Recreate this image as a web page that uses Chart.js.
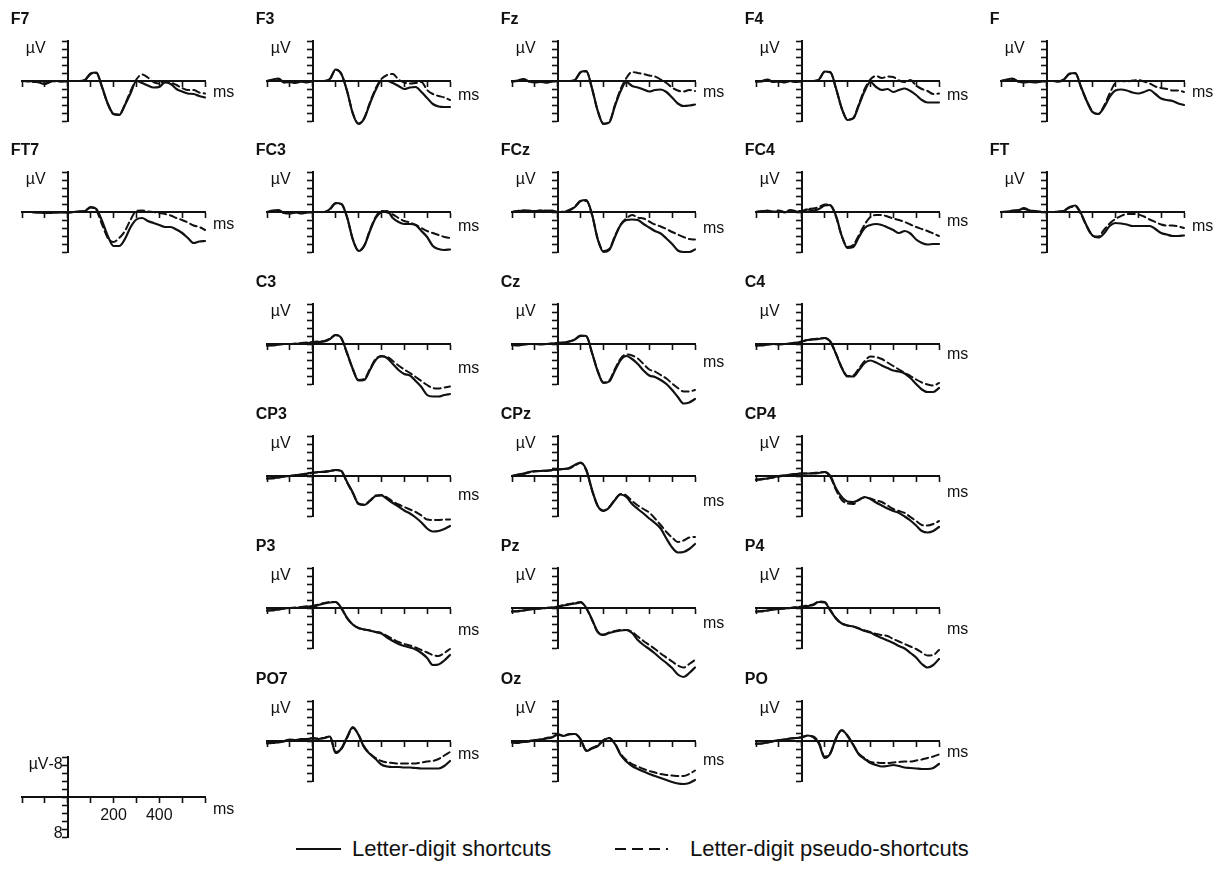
<!DOCTYPE html>
<html>
<head>
<meta charset="utf-8">
<script src="https://cdn.jsdelivr.net/npm/chart.js@4.4.1/dist/chart.umd.min.js"></script>
<style>
  html, body { margin: 0; padding: 0; background: #fff; }
  #wrap { position: relative; width: 1225px; height: 879px; overflow: hidden; background: #fff; }
  #wrap canvas { position: absolute; }
  #legend { position: absolute; left: 0; top: 827px; width: 1225px; height: 44px;
            font-family: "Liberation Sans", Arial, Helvetica, sans-serif; font-size: 22px; color: #111; }
  #legend span { position: absolute; top: 0; line-height: 44px; white-space: nowrap; }
</style>
</head>
<body>
<div id="wrap">
  <div id="legend">
    <svg style="position:absolute;left:0;top:0" width="1225" height="44">
      <line x1="296" y1="22" x2="341" y2="22" stroke="#111" stroke-width="2.2"/>
      <line x1="615" y1="22" x2="679" y2="22" stroke="#111" stroke-width="2.2" stroke-dasharray="11 6 11 6 11 6 2 40"/>
    </svg>
    <span style="left:352px">Letter-digit shortcuts</span>
    <span style="left:690px">Letter-digit pseudo-shortcuts</span>
  </div>
</div>
<script>
// ---------- DATA ----------
const timesMs = [-200,-175,-150,-125,-100,-75,-50,-25,0,25,50,75,100,125,150,175,200,225,250,275,300,325,350,375,400,425,450,475,500,525,550,575,600];
const seriesNames = ['Letter-digit shortcuts', 'Letter-digit pseudo-shortcuts'];
const electrodes = ['F7','F3','Fz','F4','F','FT7','FC3','FCz','FC4','FT','C3','Cz','C4','CP3','CPz','CP4','P3','Pz','P4','PO7','Oz','PO'];
const keyXTickLabels = [200, 400];
const keyYTickLabels = [-8, 8];

// µV values (negative plotted upward), solid = shortcuts, dashed = pseudo-shortcuts
const F7_s = [0,0,0.1,0.3,0.6,0.1,0,0.1, 0,0,0,-0.2, -1.5,-1.7,1.2,4.5, 6.6,6.8,4.8,2.4, 0,0.4,0.9,1.3, 1.2,0.3,0.6,1.6, 2.1,2.5,2.6,3.0, 3.3];
const F7_d = [0,0.1,0.2,0.2,0.5,0.2,0,0.1, 0,0,0,-0.2, -1.4,-1.6,1.3,4.6, 6.6,6.7,4.7,2.0, -0.3,-1.3,-0.7,0.2, 0.5,0.2,0.3,0.8, 1.4,1.8,1.8,2.3, 2.5];
const F3_s = [0,-0.3,-0.5,0.3,0.2,0.4,0.1,0.3, 0,0,0,-0.4, -2.3,-1.4,2.0,6.5, 8.6,7.5,4.5,1.8, 0,0,0.4,1.0, 1.6,1.3,1.2,2.2, 3.4,4.6,5.1,5.2, 5.2];
const F3_d = [0,-0.2,-0.4,0.3,0.2,0.3,0.1,0.2, 0,0,0,-0.4, -2.2,-1.4,2.0,6.4, 8.5,7.4,4.3,1.5, -0.4,-1.2,-1.4,-0.3, 0.3,0.5,0.4,0.2, 1.8,2.6,3.0,3.3, 3.8];
const Fz_s = [0.1,-0.1,-0.4,0.1,0.3,0.2,0.3,0.1, 0,0,0,-0.2, -1.8,-2.0,1.5,6.0, 8.6,8.3,5.0,2.0, 0.2,1.0,1.3,1.7, 2.1,1.8,1.7,2.2, 3.3,4.5,5.0,4.9, 4.7];
const Fz_d = [0.1,0,-0.3,0.1,0.2,0.2,0.3,0.1, 0,0,0,-0.2, -1.7,-1.9,1.6,6.0, 8.5,8.2,4.8,1.6, -0.6,-1.8,-1.6,-1.4, -1.1,-0.9,-0.3,0.4, 1.3,1.9,2.1,1.8, 2.0];
const F4_s = [0.1,0,-0.3,0.2,0.1,0.3,0,0.2, 0,0,0,-0.3, -1.9,-1.8,1.5,5.5, 7.8,7.5,4.8,2.0, 0.2,1.2,1.8,1.6, 2.2,1.8,1.5,2.0, 2.8,3.8,4.3,4.3, 4.3];
const F4_d = [0.1,0.1,-0.2,0.2,0.1,0.2,0,0.2, 0,0,0,-0.3, -1.8,-1.7,1.6,5.5, 7.7,7.4,4.6,1.6, -0.3,-1.0,-0.6,-0.9, -0.8,-0.1,0.2,-0.2, 0.9,1.6,2.0,2.6, 2.5];
const F_s = [0,-0.3,-0.5,0.1,0.3,0.2,0.3,0.1, 0,0,0.1,-0.3, -1.5,-1.6,1.2,4.0, 6.2,6.6,5.3,3.2, 1.9,1.7,1.9,2.3, 2.5,2.2,1.8,2.6, 3.5,3.8,4.0,4.5, 4.8];
const F_d = [0,-0.2,-0.4,0.1,0.2,0.2,0.2,0.1, 0,0,0.1,-0.3, -1.4,-1.5,1.3,4.0, 6.1,6.6,5.0,2.5, 0.4,0,0.1,-0.1, -0.2,0.1,0.5,1.1, 1.4,1.6,1.9,1.9, 2.2];
const FT7_s = [0,0,0,0.1,0.2,0.2,0.1,0.1, 0.1,0,-0.1,-0.2, -1.0,-0.6,1.8,4.8, 6.8,6.8,5.4,3.0, 1.5,1.2,1.8,2.2, 2.6,3.0,3.0,3.5, 4.2,5.2,6.2,5.9, 5.8];
const FT7_d = [0,0,0.1,0.1,0.2,0.1,0.1,0, 0.1,0,-0.1,-0.2, -0.9,-0.3,2.5,5.2, 6.0,5.2,3.8,1.5, -0.2,-0.3,-0.1,0, 0.2,0.4,0.7,1.2, 1.6,2.1,2.7,3.0, 3.6];
const FC3_s = [0,-0.3,-0.4,0.2,0.3,0.1,0.3,0.1, 0,0,0,-0.6, -1.8,-1.6,1.0,5.5, 7.8,6.8,3.8,1.2, 0,-0.2,1.2,2.0, 2.4,2.4,2.6,3.8, 5.0,6.8,7.4,7.6, 7.5];
const FC3_d = [0,-0.2,-0.3,0.2,0.2,0.1,0.2,0.1, 0,0,0,-0.5, -1.7,-1.6,1.1,5.4, 7.7,6.7,3.6,1.0, -0.2,0.1,0.5,1.2, 1.8,2.1,2.6,3.2, 3.8,4.2,4.6,5.0, 5.2];
const FCz_s = [0,-0.2,-0.3,-0.3,-0.1,-0.3,-0.2,-0.3, 0,0,-0.3,-1.0, -2.2,-2.4,0.5,5.5, 8.0,7.6,5.0,2.6, 1.6,1.5,1.6,2.4, 3.1,3.8,4.3,5.3, 6.4,7.7,8.0,8.0, 7.5];
const FCz_d = [0,-0.2,-0.3,-0.2,-0.2,-0.3,-0.3,-0.2, 0,-0.1,-0.4,-1.1, -2.2,-2.2,0.6,5.4, 7.8,7.4,4.8,2.5, 1.3,0.6,1.1,1.3, 1.9,2.5,2.9,3.4, 4.0,4.5,5.0,5.4, 5.5];
const FC4_s = [0,-0.1,-0.3,0,-0.2,0.1,-0.3,-0.1, 0,-0.5,-0.3,-0.6, -1.3,-1.4,0.8,4.8, 7.2,7.0,5.0,3.2, 2.6,2.4,2.6,3.1, 3.6,4.2,3.8,4.3, 5.5,6.2,6.5,6.4, 6.4];
const FC4_d = [0,-0.2,-0.2,-0.1,-0.3,0,-0.4,-0.2, -0.2,-0.6,-0.7,-1.0, -1.5,-1.3,1.0,4.8, 7.0,6.6,4.6,2.5, 1.0,0.6,0.6,0.9, 1.3,1.6,2.0,2.5, 3.0,3.4,3.8,4.3, 4.8];
const FT_s = [0,0,-0.3,-0.3,-0.8,-0.3,-0.2,0, 0,0,0,-0.2, -1.0,-1.3,0.3,2.8, 4.7,5.1,4.3,2.8, 2.2,2.3,2.5,2.8, 2.8,2.8,2.8,3.4, 4.2,4.5,4.8,4.8, 4.7];
const FT_d = [0,-0.1,-0.2,-0.4,-0.6,-0.3,-0.1,-0.1, 0,0,-0.1,-0.3, -0.9,-1.1,0.5,2.9, 4.7,4.9,3.6,2.3, 1.4,0.8,0.4,0.4, 0.5,0.9,1.5,2.0, 2.5,2.7,2.7,2.9, 3.2];
const C3_s = [0.3,0.3,0.1,0,0,0,-0.1,-0.2, -0.3,-0.4,-0.5,-1.0, -1.8,-1.2,1.8,5.0, 7.3,7.2,5.2,3.2, 2.4,2.8,4.0,5.2, 6.0,6.3,7.4,8.6, 10.2,10.5,10.5,10.2, 10.0];
const C3_d = [0.3,0.2,0.1,0,0,-0.1,-0.2,-0.3, -0.4,-0.5,-0.6,-1.1, -1.8,-1.1,1.9,5.0, 7.2,7.0,5.0,3.0, 2.5,2.6,3.4,4.3, 5.1,5.8,6.6,7.4, 8.2,8.8,8.9,8.7, 8.5];
const Cz_s = [0.2,0.3,0.1,0,0,0.1,0,-0.1, -0.2,-0.3,-0.5,-0.9, -1.7,-1.6,1.8,5.5, 7.8,7.5,5.3,3.2, 2.4,3.0,4.0,5.3, 6.3,6.6,7.2,8.0, 9.2,10.6,11.9,11.7, 11.0];
const Cz_d = [0.2,0.2,0.1,0,0,0,0,-0.1, -0.2,-0.3,-0.5,-0.9, -1.6,-1.5,1.8,5.4, 7.7,7.3,5.0,2.9, 2.1,2.3,2.9,4.0, 5.1,5.5,6.2,6.9, 7.9,8.8,9.5,9.5, 9.2];
const C4_s = [0.3,0.3,0.1,0,0.1,0,-0.1,-0.2, -0.5,-0.8,-0.9,-1.0, -1.2,-0.5,2.0,4.8, 6.5,6.5,5.2,3.8, 3.3,3.7,4.3,4.8, 5.3,5.5,5.9,6.8, 8.0,9.1,9.6,9.6, 8.8];
const C4_d = [0.3,0.2,0.1,0,0,0,-0.1,-0.3, -0.5,-0.8,-1.0,-1.1, -1.2,-0.4,2.0,4.7, 6.4,6.3,4.9,3.4, 2.5,2.6,3.0,3.7, 4.4,5.1,5.8,6.4, 7.1,7.7,8.1,8.3, 7.8];
const CP3_s = [0.5,0.4,0.3,0.1,0,-0.2,-0.3,-0.5, -0.7,-0.8,-0.8,-1.0, -1.2,-1.0,1.2,3.3, 5.6,5.8,5.0,4.0, 3.9,4.6,5.4,6.1, 6.9,7.5,8.3,9.3, 10.5,11.1,11.0,10.6, 10.0];
const CP3_d = [0.5,0.5,0.3,0.1,0,-0.1,-0.3,-0.4, -0.6,-0.8,-0.9,-1.0, -1.2,-0.9,1.3,3.4, 5.5,5.7,4.9,3.9, 3.8,4.3,5.1,5.7, 6.2,6.7,7.2,7.9, 8.7,8.8,8.8,8.7, 8.7];
const CPz_s = [0,-0.3,-0.5,-0.8,-1.0,-1.0,-1.1,-1.2, -1.3,-1.4,-1.6,-2.2, -2.7,-1.2,2.8,6.0, 7.0,6.3,4.8,3.7, 4.2,5.6,6.6,7.5, 8.5,9.4,10.5,12.5, 14.3,15.3,15.2,14.6, 13.6];
const CPz_d = [0,-0.2,-0.4,-0.7,-0.9,-1.0,-1.0,-1.1, -1.3,-1.4,-1.5,-2.1, -2.6,-1.1,2.9,6.0, 6.9,6.2,4.7,3.6, 3.9,5.0,5.9,6.6, 7.3,8.5,9.8,11.2, 12.3,13.2,12.9,12.3, 12.2];
const CP4_s = [0.7,0.6,0.5,0.3,0,-0.1,-0.3,-0.4, -0.5,-0.5,-0.5,-0.6, -0.8,0,2.5,4.2, 5.1,5.2,4.8,4.2, 4.6,5.3,5.9,6.5, 7.0,7.4,8.1,8.9, 9.9,11.0,11.3,11.0, 10.2];
const CP4_d = [0.8,0.7,0.5,0.3,0.1,-0.1,-0.2,-0.4, -0.5,-0.5,-0.6,-0.7, -0.8,0.2,2.8,4.8, 5.5,5.6,4.7,4.3, 4.5,4.9,5.2,5.9, 6.6,7.0,7.4,8.2, 9.0,9.8,9.9,9.6, 9.0];
const P3_s = [0.5,0.4,0.3,0.1,0,0,-0.2,-0.3, -0.3,-0.6,-0.9,-1.1, -1.2,0,2.0,3.3, 4.0,4.3,4.5,4.8, 5.1,5.9,6.6,7.2, 7.6,7.9,8.3,9.0, 10.0,11.4,11.3,10.5, 9.4];
const P3_d = [0.5,0.5,0.3,0.1,0,-0.1,-0.2,-0.3, -0.4,-0.7,-1.0,-1.2, -1.2,0.1,2.0,3.3, 4.0,4.3,4.5,4.8, 5.0,5.6,6.2,6.8, 7.2,7.5,7.9,8.4, 8.9,9.4,9.6,9.0, 8.2];
const Pz_s = [0.7,0.6,0.5,0.3,0.2,0.1,0,-0.1, -0.2,-0.5,-0.7,-0.9, -1.1,0,2.3,4.8, 5.4,5.0,4.7,4.5, 4.4,5.0,6.4,7.4, 8.2,9.1,10.1,11.0, 12.0,13.3,13.8,13.0, 11.9];
const Pz_d = [0.7,0.7,0.5,0.3,0.2,0.1,0,-0.1, -0.3,-0.6,-0.8,-1.0, -1.2,0.1,2.4,4.8, 5.3,4.9,4.6,4.4, 4.4,4.8,5.7,6.6, 7.4,8.2,9.1,9.9, 10.7,11.5,11.9,11.2, 10.4];
const P4_s = [0.7,0.6,0.5,0.3,0.2,0.1,0,-0.1, -0.2,-0.4,-0.6,-1.2, -1.1,0.5,2.1,3.1, 3.5,3.7,4.1,4.6, 4.9,5.5,6.0,6.5, 7.0,7.6,8.1,9.0, 9.9,11.2,11.9,11.4, 10.2];
const P4_d = [0.7,0.7,0.5,0.3,0.2,0.1,0,-0.2, -0.3,-0.5,-0.7,-1.3, -1.2,0.4,2.1,3.1, 3.5,3.7,4.1,4.5, 4.8,5.2,5.4,5.6, 6.2,6.7,7.2,7.7, 8.2,8.9,9.5,9.4, 8.4];
const PO7_s = [0.4,0.4,0.2,0,-0.3,-0.2,-0.3,-0.4, -0.5,-0.4,-0.6,-0.9, 2.4,1.5,-0.8,-2.8, -1.2,1.3,2.6,3.6, 4.7,5.1,5.2,5.2, 5.3,5.3,5.4,5.5, 5.5,5.5,5.5,5.0, 4.0];
const PO7_d = [0.5,0.4,0.3,0.1,-0.2,-0.2,-0.4,-0.4, -0.6,-0.5,-0.6,-0.9, 2.2,1.6,-0.6,-2.6, -1.3,1.1,2.5,3.4, 4.0,4.3,4.4,4.5, 4.5,4.5,4.5,4.3, 4.1,4.0,3.6,2.9, 2.2];
const Oz_s = [0.3,0.3,0.2,0,-0.2,-0.3,-0.5,-0.7, -1.4,-1.0,-1.4,-1.4, -0.3,2.0,1.5,1.0, -0.1,-0.6,0.6,2.8, 4.1,5.0,5.6,6.1, 6.6,7.0,7.4,7.8, 8.2,8.5,8.6,8.4, 7.8];
const Oz_d = [0.3,0.4,0.2,0.1,-0.1,-0.3,-0.6,-0.8, -1.2,-1.1,-1.3,-1.4, -0.4,1.8,1.4,0.8, -0.2,-0.6,0.5,2.6, 3.8,4.6,5.1,5.6, 6.0,6.3,6.6,6.8, 6.9,7.0,7.0,6.6, 5.9];
const PO_s = [0.5,0.5,0.3,0,-0.2,-0.3,-0.5,-0.6, -0.7,-1.1,-0.8,0.5, 3.4,2.5,-0.6,-2.2, -1.0,0.8,2.7,3.6, 4.4,4.8,5.1,5.0, 4.8,5.0,5.3,5.4, 5.5,5.6,5.6,5.4, 4.6];
const PO_d = [0.6,0.5,0.3,0.1,-0.1,-0.3,-0.5,-0.6, -0.8,-1.0,-0.9,0.3, 3.1,2.4,-0.5,-2.1, -1.1,0.7,2.6,3.4, 4.2,4.3,4.4,4.4, 4.3,4.2,4.1,4.1, 3.9,3.7,3.4,3.1, 2.7];

const seriesByElectrode = {
  F7: [F7_s, F7_d], F3: [F3_s, F3_d], Fz: [Fz_s, Fz_d], F4: [F4_s, F4_d], F: [F_s, F_d],
  FT7: [FT7_s, FT7_d], FC3: [FC3_s, FC3_d], FCz: [FCz_s, FCz_d], FC4: [FC4_s, FC4_d], FT: [FT_s, FT_d],
  C3: [C3_s, C3_d], Cz: [Cz_s, Cz_d], C4: [C4_s, C4_d],
  CP3: [CP3_s, CP3_d], CPz: [CPz_s, CPz_d], CP4: [CP4_s, CP4_d],
  P3: [P3_s, P3_d], Pz: [Pz_s, Pz_d], P4: [P4_s, P4_d],
  PO7: [PO7_s, PO7_d], Oz: [Oz_s, Oz_d], PO: [PO_s, PO_d]
};

// ---------- LAYOUT ----------
const colX = [68, 313, 558, 802, 1047];
const rowY = [81, 212, 344, 476, 608, 741];
const keyOrigin = [68, 797];
const gridPos = {
  F7:[0,0], F3:[1,0], Fz:[2,0], F4:[3,0], F:[4,0],
  FT7:[0,1], FC3:[1,1], FCz:[2,1], FC4:[3,1], FT:[4,1],
  C3:[1,2], Cz:[2,2], C4:[3,2],
  CP3:[1,3], CPz:[2,3], CP4:[3,3],
  P3:[1,4], Pz:[2,4], P4:[3,4],
  PO7:[1,5], Oz:[2,5], PO:[3,5]
};
const msDy = { F7:12, F3:15, Fz:12, F4:15, F:12, FT7:13, FC3:15, FCz:17, FC4:10, FT:15,
  C3:25, Cz:19, C4:11, CP3:20, CPz:26, CP4:17, P3:23, Pz:16, P4:22, PO7:14, Oz:20, PO:12 };

const FONT = '"Liberation Sans", Arial, Helvetica, sans-serif';
const INK = '#111';
const CW = 240, CH = 160, PAD = { left: 16, right: 41, top: 35, bottom: 45 };

const panelText = {
  id: 'panelText',
  afterDraw(chart, args, opts) {
    const { ctx } = chart;
    const x = chart.scales.x, y = chart.scales.y;
    const ox = x.getPixelForValue(0), oy = y.getPixelForValue(0);
    const xEnd = x.getPixelForValue(600);
    ctx.save();
    ctx.fillStyle = INK;
    ctx.textBaseline = 'middle';
    if (opts.title) {
      ctx.font = 'bold 16px ' + FONT;
      ctx.textAlign = 'left';
      ctx.fillText(opts.title, ox - 57, oy - 61);
    }
    ctx.font = '16px ' + FONT;
    ctx.textAlign = 'left';
    ctx.fillText('ms', xEnd + 8, oy + opts.msDy);
    ctx.textAlign = 'right';
    if (opts.key) {
      const lblRight = ox - 5;
      keyYTickLabels.forEach(v => {
        const py = v < 0 ? oy - 32 : y.getPixelForValue(v) - 3;
        ctx.fillText(String(v), lblRight, py);
      });
      const w = ctx.measureText(String(keyYTickLabels[0])).width;
      ctx.fillText('µV', lblRight - w, oy - 32);
      ctx.textAlign = 'center';
      keyXTickLabels.forEach(v => {
        ctx.fillText(String(v), x.getPixelForValue(v), oy + 19);
      });
    } else {
      ctx.fillText('µV', ox - 22, oy - 32);
    }
    ctx.restore();
  }
};

function axisOpts(min, max, step, isY) {
  return {
    type: 'linear', min, max, reverse: !!isY,
    position: isY ? { x: 0 } : { y: 0 },
    ticks: { display: false, stepSize: step },
    grid: { display: true, drawOnChartArea: false, drawTicks: true, tickLength: 5,
            tickWidth: 1.6, tickColor: INK, color: INK },
    border: { display: true, color: INK, width: 2 }
  };
}

function makeChart(ox, oy, datasets, textOpts) {
  const cv = document.createElement('canvas');
  cv.width = CW; cv.height = CH;
  cv.style.left = (ox - 62) + 'px';
  cv.style.top = (oy - 75) + 'px';
  cv.style.width = CW + 'px'; cv.style.height = CH + 'px';
  document.getElementById('wrap').appendChild(cv);
  return new Chart(cv, {
    type: 'line',
    data: { datasets },
    options: {
      responsive: false, animation: false, devicePixelRatio: 1,
      layout: { padding: PAD },
      plugins: { legend: { display: false }, tooltip: { enabled: false }, panelText: textOpts },
      elements: { point: { radius: 0 }, line: { cubicInterpolationMode: 'monotone', borderCapStyle: 'round', borderJoinStyle: 'round' } },
      scales: { x: axisOpts(-200, 600, 100, false), y: axisOpts(-8, 8, 1.6, true) }
    },
    plugins: [panelText]
  });
}

electrodes.forEach(name => {
  const [c, r] = gridPos[name];
  const [solid, dashed] = seriesByElectrode[name];
  const ds = [
    { label: seriesNames[0], data: timesMs.map((t, i) => ({ x: t, y: solid[i] })),
      borderColor: INK, borderWidth: 2.2, clip: false },
    { label: seriesNames[1], data: timesMs.map((t, i) => ({ x: t, y: dashed[i] })),
      borderColor: INK, borderWidth: 2, borderDash: [7, 4], clip: false }
  ];
  makeChart(colX[c], rowY[r], ds, { title: name, msDy: msDy[name] });
});

makeChart(keyOrigin[0], keyOrigin[1], [], { title: '', msDy: 13, key: true });
</script>
</body>
</html>
